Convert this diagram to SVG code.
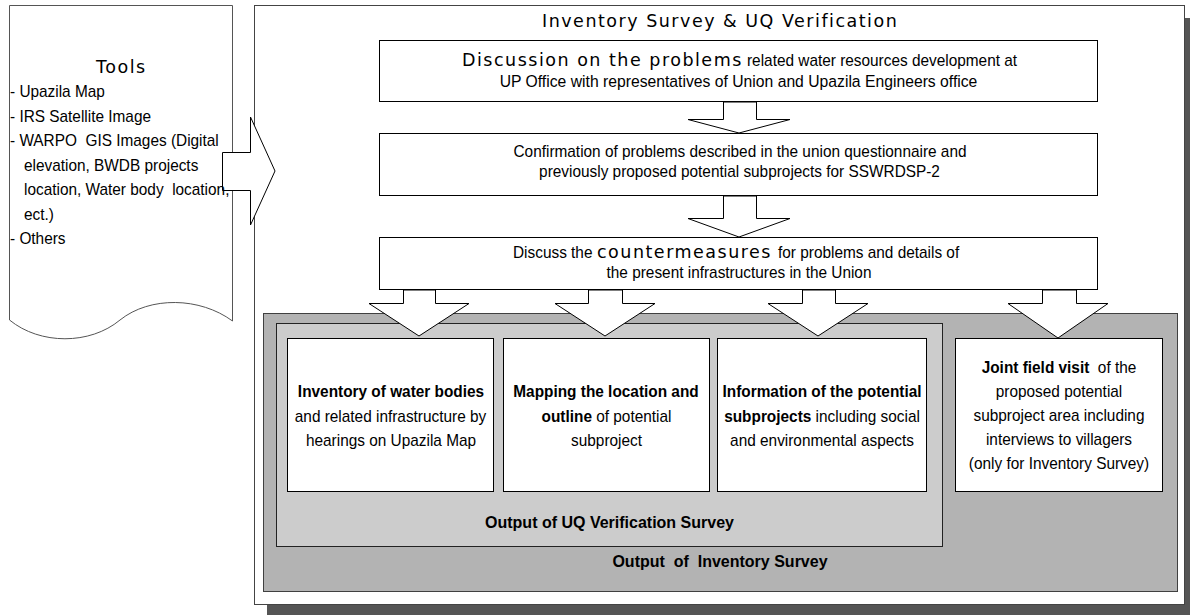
<svg xmlns="http://www.w3.org/2000/svg" width="1190" height="615" viewBox="0 0 1190 615">
<style>
.n{font-family:"Liberation Sans",Arial,sans-serif;font-size:17px;fill:#000}
.b{font-weight:bold}
.w{font-family:"DejaVu Sans",Verdana,sans-serif;font-size:17.5px;letter-spacing:1.5px;fill:#000}
.o{font-family:"Liberation Sans",Arial,sans-serif;font-size:16px;font-weight:bold;fill:#000}
.box{fill:#fff;stroke:#000;stroke-width:1}
.arr{fill:#fff;stroke:#000;stroke-width:1;stroke-linejoin:miter}
</style>
<rect width="1190" height="615" fill="#fff"/>

<g id="frame">
  <rect x="267" y="18" width="940" height="610" fill="#555"/>
  <rect x="254.5" y="5.5" width="930" height="599" fill="#fff" stroke="#444"/>
  <text class="w" x="542" y="27">Inventory Survey &amp; UQ Verification</text>
</g>

<g id="output-inventory">
  <rect x="263.5" y="313.5" width="914" height="278" fill="#b3b3b3" stroke="#404040"/>
  <text class="o" x="720" y="567" text-anchor="middle" xml:space="preserve">Output  of  Inventory Survey</text>
</g>

<g id="output-uq">
  <rect x="276.5" y="323.5" width="666" height="223" fill="#cccccc" stroke="#222"/>
  <text class="o" x="609.5" y="528" text-anchor="middle">Output of UQ Verification Survey</text>
</g>

<g id="tools">
  <path d="M9.5,320 L9.5,5.5 L232.5,5.5 L232.5,321 C200,297 150,296 120,320 C90,345 40,345 9.5,320 Z" fill="#fff" stroke="#555"/>
</g>

<g id="connectors">
  <polygon class="arr" points="222.5,152.5 250.5,152.5 250.5,117 275,171 250.5,225 250.5,190.5 222.5,190.5"/>
  <polygon class="arr" points="723.5,102 723.5,119.5 688,119.5 739,133 790,119.5 756.5,119.5 756.5,102"/>
  <polygon class="arr" points="723.5,196 723.5,218.5 688,218.5 739,237 790,218.5 756.5,218.5 756.5,196"/>
  <polygon class="arr" points="403.5,290 403.5,303.5 369,303.5 419,336 469,303.5 435.5,303.5 435.5,290"/>
  <polygon class="arr" points="588.5,290 588.5,303.5 555,303.5 605,336 655,303.5 622.5,303.5 622.5,290"/>
  <polygon class="arr" points="802.5,290 802.5,303.5 768,303.5 818,336 868,303.5 835.5,303.5 835.5,290"/>
  <polygon class="arr" points="1042.5,290 1042.5,303.5 1008,303.5 1058,338 1108,303.5 1076.5,303.5 1076.5,290"/>
</g>

<g id="tools-text">
  <text class="w" x="96" y="73">Tools</text>
  <g class="n">
    <text transform="matrix(.905 0 0 1 10 0)" y="97.5">- Upazila Map</text>
    <text transform="matrix(.905 0 0 1 10 0)" y="122">- IRS Satellite Image</text>
    <text transform="matrix(.905 0 0 1 10 0)" y="146.5" xml:space="preserve">- WARPO  GIS Images (Digital</text>
    <text transform="matrix(.905 0 0 1 24 0)" y="171">elevation, BWDB projects</text>
    <text transform="matrix(.905 0 0 1 24 0)" y="195.5" xml:space="preserve">location, Water body  location,</text>
    <text transform="matrix(.905 0 0 1 24 0)" y="220">ect.)</text>
    <text transform="matrix(.905 0 0 1 10 0)" y="244.5">- Others</text>
  </g>
</g>

<g id="step1">
  <rect class="box" x="379.5" y="40.5" width="718" height="61"/>
  <text class="w" x="462" y="66">Discussion on the problems</text>
  <text class="n" transform="matrix(.905 0 0 1 747 0)" y="66">related water resources development at</text>
  <text class="n" text-anchor="middle" transform="matrix(.925 0 0 1 738.5 0)" y="87">UP Office with representatives of Union and Upazila Engineers office</text>
</g>

<g id="step2">
  <rect class="box" x="379.5" y="133.5" width="718" height="62"/>
  <text class="n" text-anchor="middle" transform="matrix(.905 0 0 1 740 0)" y="157">Confirmation of problems described in the union questionnaire and</text>
  <text class="n" text-anchor="middle" transform="matrix(.905 0 0 1 739.5 0)" y="177">previously proposed potential subprojects for SSWRDSP-2</text>
</g>

<g id="step3">
  <rect class="box" x="379.5" y="237.5" width="718" height="52"/>
  <text class="n" transform="matrix(.905 0 0 1 513 0)" y="258">Discuss the</text>
  <text class="w" x="597" y="258">countermeasures</text>
  <text class="n" transform="matrix(.905 0 0 1 778 0)" y="258">for problems and details of</text>
  <text class="n" text-anchor="middle" transform="matrix(.905 0 0 1 739 0)" y="278">the present infrastructures in the Union</text>
</g>

<g id="inventory-water-bodies">
  <rect class="box" x="287.5" y="338.5" width="206" height="153"/>
  <g class="n" text-anchor="middle">
    <text class="b" transform="matrix(.905 0 0 1 391 0)" y="397">Inventory of water bodies</text>
    <text transform="matrix(.905 0 0 1 390.5 0)" y="422">and related infrastructure by</text>
    <text transform="matrix(.905 0 0 1 391 0)" y="446">hearings on Upazila Map</text>
  </g>
</g>

<g id="mapping-location">
  <rect class="box" x="503.5" y="338.5" width="206" height="153"/>
  <g class="n" text-anchor="middle">
    <text class="b" transform="matrix(.905 0 0 1 606 0)" y="397">Mapping the location and</text>
    <text transform="matrix(.905 0 0 1 606.5 0)" y="422"><tspan class="b">outline</tspan> of potential</text>
    <text transform="matrix(.905 0 0 1 606.5 0)" y="446">subproject</text>
  </g>
</g>

<g id="information-subprojects">
  <rect class="box" x="717.5" y="338.5" width="209" height="153"/>
  <g class="n" text-anchor="middle">
    <text class="b" transform="matrix(.905 0 0 1 822 0)" y="397">Information of the potential</text>
    <text transform="matrix(.905 0 0 1 822 0)" y="422"><tspan class="b">subprojects</tspan> including social</text>
    <text transform="matrix(.905 0 0 1 822 0)" y="446">and environmental aspects</text>
  </g>
</g>

<g id="joint-field-visit">
  <rect class="box" x="955.5" y="338.5" width="207" height="153"/>
  <g class="n" text-anchor="middle">
    <text transform="matrix(.905 0 0 1 1059 0)" y="373" xml:space="preserve"><tspan class="b">Joint field visit</tspan>  of the</text>
    <text transform="matrix(.905 0 0 1 1059 0)" y="397">proposed potential</text>
    <text transform="matrix(.905 0 0 1 1059 0)" y="421">subproject area including</text>
    <text transform="matrix(.905 0 0 1 1059 0)" y="445">interviews to villagers</text>
    <text transform="matrix(.905 0 0 1 1059 0)" y="469">(only for Inventory Survey)</text>
  </g>
</g>
</svg>
